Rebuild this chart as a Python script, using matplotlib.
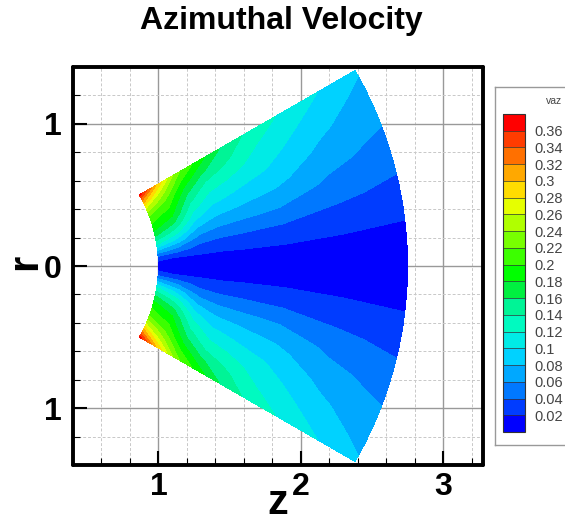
import numpy as np
import matplotlib
matplotlib.use('Agg')
import matplotlib.pyplot as plt

plt.rcParams['font.family'] = ['Liberation Sans', 'DejaVu Sans']

# azimuthal velocity, upper half of the wedge
# (the field is mirrored about r = 0)
theta_deg = [0, 3, 6, 9, 12, 15, 18, 21, 24, 27, 30]
radius = [1.0, 1.15, 1.3, 1.45, 1.6, 1.9, 2.3, 2.75]
vaz_r100 = [0.012, 0.024, 0.075, 0.125, 0.160, 0.185, 0.203, 0.222, 0.260, 0.310, 0.369]
vaz_r115 = [0.012, 0.018, 0.050, 0.090, 0.127, 0.158, 0.182, 0.200, 0.220, 0.248, 0.292]
vaz_r130 = [0.012, 0.016, 0.033, 0.054, 0.080, 0.104, 0.126, 0.147, 0.170, 0.198, 0.226]
vaz_r145 = [0.012, 0.015, 0.028, 0.046, 0.066, 0.085, 0.103, 0.120, 0.140, 0.165, 0.195]
vaz_r160 = [0.012, 0.015, 0.027, 0.044, 0.062, 0.080, 0.096, 0.112, 0.130, 0.148, 0.165]
vaz_r190 = [0.012, 0.014, 0.025, 0.040, 0.057, 0.072, 0.086, 0.098, 0.109, 0.120, 0.132]
vaz_r230 = [0.012, 0.014, 0.021, 0.032, 0.044, 0.055, 0.065, 0.075, 0.085, 0.096, 0.108]
vaz_r275 = [0.012, 0.014, 0.018, 0.026, 0.035, 0.044, 0.052, 0.060, 0.066, 0.073, 0.083]

levels = [0.01, 0.02, 0.04, 0.06, 0.08, 0.10, 0.12, 0.14, 0.16, 0.18, 0.20,
          0.22, 0.24, 0.26, 0.28, 0.30, 0.32, 0.34, 0.36, 0.37]
tick_levels = levels[1:-1]
tick_labels = ['0.02', '0.04', '0.06', '0.08', '0.1', '0.12', '0.14', '0.16', '0.18',
               '0.2', '0.22', '0.24', '0.26', '0.28', '0.3', '0.32', '0.34', '0.36']
band_colors = ['#0000ff', '#003cff', '#0078ff', '#00a8ff', '#00d2ff', '#00ebe6',
               '#00fac0', '#00f496', '#00f040', '#00ff00', '#3cff00', '#78ff00',
               '#b0ff00', '#e6ff00', '#ffdc00', '#ffa800', '#ff7000', '#ff3c00', '#ff0000']

vals = np.array([vaz_r100, vaz_r115, vaz_r130, vaz_r145, vaz_r160,
                 vaz_r190, vaz_r230, vaz_r275])
full = np.hstack([vals[:, :0:-1], vals])
th = np.deg2rad(np.concatenate([-np.array(theta_deg[:0:-1]), theta_deg]))
T, R = np.meshgrid(th, radius)
Zc = R * np.cos(T)
Rc = R * np.sin(T)

W, H = 565, 523
fig = plt.figure(figsize=(W / 100, H / 100), dpi=100)
ax = fig.add_axes([73 / W, 1 - 465 / H, 410 / W, 398 / H])

cf = ax.contourf(Zc, Rc, full, levels=levels, colors=band_colors, zorder=2)

ax.set_xlim(0.4, 3.28)
ax.set_ylim(-1.4, 1.4)
ax.set_xticks([1, 2, 3])
ax.set_xticklabels(['1', '2', '3'])
ax.set_yticks([-1, 0, 1])
ax.set_yticklabels(['1', '0', '1'])
ax.set_xticks(np.arange(0.4, 3.3, 0.2), minor=True)
ax.set_yticks(np.arange(-1.4, 1.41, 0.2), minor=True)
ax.grid(which='major', color='#999999', linestyle='-', linewidth=1.0, zorder=0)
ax.grid(which='minor', color='#c8c8c8', linestyle=(0, (3, 2)), linewidth=0.7, zorder=0)
ax.set_axisbelow(True)
ax.tick_params(which='major', direction='in', length=10, width=1.5, labelsize=23, pad=5)
ax.tick_params(axis='y', which='major', pad=8)
ax.tick_params(which='minor', direction='in', length=5, width=0.8)
for lab in ax.get_xticklabels() + ax.get_yticklabels():
    lab.set_fontweight('bold')
for sp in ax.spines.values():
    sp.set_linewidth(2.8)
    sp.set_capstyle('round')

fig.text(281 / W, 1 - 21 / H, 'Azimuthal Velocity', fontsize=23, fontweight='bold',
         ha='center', va='center')
fig.text(278 / W, 1 - 503 / H, 'z', fontsize=30, fontweight='bold', ha='center', va='center')
fig.text(25 / W, 1 - 262 / H, 'r', fontsize=30, fontweight='bold', rotation=90,
         ha='center', va='center')

# legend box
box = fig.add_axes([495 / W, 1 - 445 / H, 90 / W, 358 / H])
box.set_xticks([])
box.set_yticks([])
for sp in box.spines.values():
    sp.set_color('#999999')
    sp.set_linewidth(1.0)
fig.text(554 / W, 1 - 101 / H, 'vaz', fontsize=7.5, color='#444444', ha='center', va='center')

cax = fig.add_axes([503 / W, 1 - 432 / H, 22 / W, 318 / H])
cb = fig.colorbar(cf, cax=cax, ticks=tick_levels, drawedges=True)
cb.ax.set_yticklabels(tick_labels)
cb.ax.tick_params(length=0, pad=7, labelsize=10.5, labelcolor='#444444')
cb.outline.set_linewidth(0.8)
cb.outline.set_edgecolor('#333333')
cb.dividers.set_color('#333333')
cb.dividers.set_linewidth(0.5)

fig.savefig('out.png', dpi=100)
